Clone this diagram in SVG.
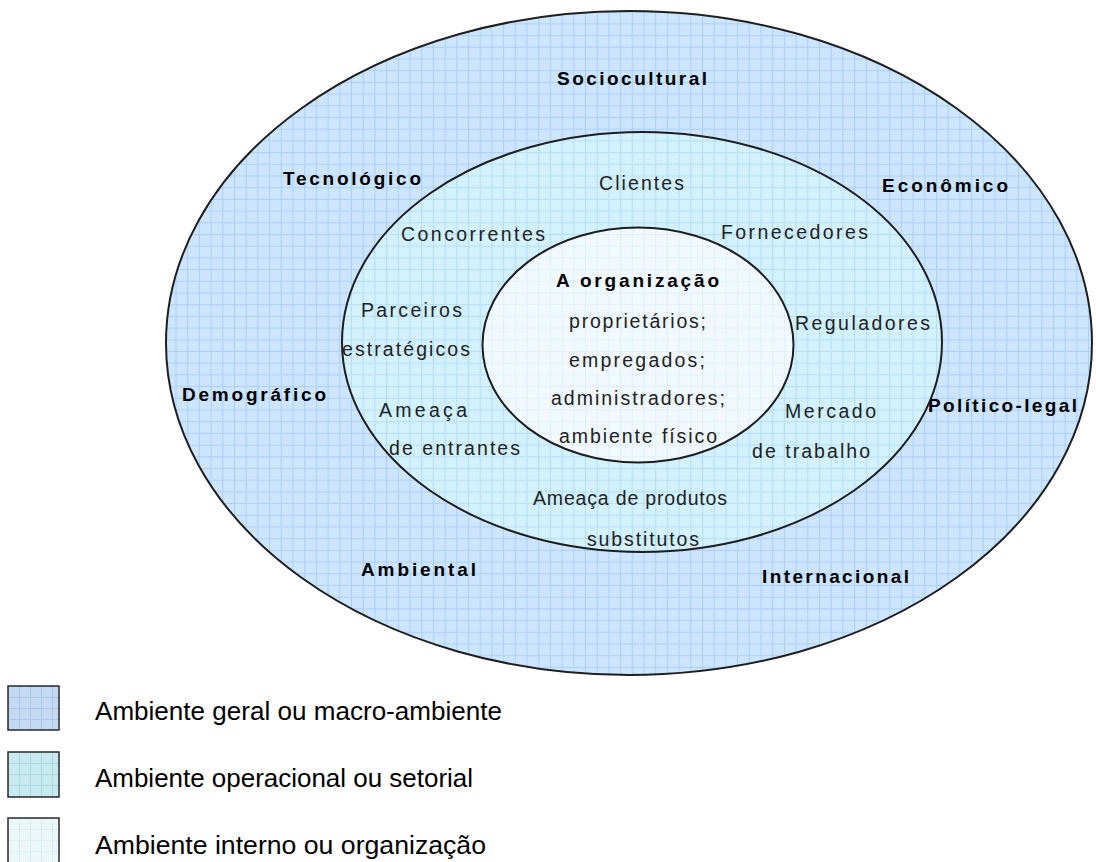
<svg xmlns="http://www.w3.org/2000/svg" width="1096" height="862" viewBox="0 0 1096 862">
  <style>
    .ring { stroke: #1e1e1e; stroke-width: 2; }
    .bold { font-family: "Liberation Sans", Arial, sans-serif; font-weight: bold; font-size: 19px; fill: #000; }
    .reg { font-family: "Liberation Sans", Arial, sans-serif; font-size: 19.5px; fill: #222; }
    .leg { font-family: "Liberation Sans", Arial, sans-serif; font-size: 25px; fill: #000; }
    .box { stroke: #2a2a2a; stroke-width: 1.5; }
  </style>
  <defs>
    <pattern id="gridMacro" patternUnits="userSpaceOnUse" width="11.7" height="11.7">
      <rect width="11.7" height="11.7" fill="#cde5ff"/>
      <path d="M0 0.5H11.7M0.5 0V11.7" stroke="#a9d0fb" stroke-width="1"/>
    </pattern>
    <pattern id="gridSetor" patternUnits="userSpaceOnUse" width="11.7" height="11.7">
      <rect width="11.7" height="11.7" fill="#d3f1ff"/>
      <path d="M0 0.5H11.7M0.5 0V11.7" stroke="#b3dff9" stroke-width="1"/>
    </pattern>
    <pattern id="gridOrg" patternUnits="userSpaceOnUse" width="11.7" height="11.7">
      <rect width="11.7" height="11.7" fill="#f1f9ff"/>
      <path d="M0 0.5H11.7M0.5 0V11.7" stroke="#dff0fb" stroke-width="1"/>
    </pattern>
    <pattern id="legMacro" patternUnits="userSpaceOnUse" width="11" height="11" x="8" y="686">
      <rect width="11" height="11" fill="#c6d9f3"/>
      <path d="M0 0.5H11M0.5 0V11" stroke="#a9c5ef" stroke-width="1"/>
    </pattern>
    <pattern id="legSetor" patternUnits="userSpaceOnUse" width="11" height="11" x="8" y="752">
      <rect width="11" height="11" fill="#c7e9ef"/>
      <path d="M0 0.5H11M0.5 0V11" stroke="#a9d8e3" stroke-width="1"/>
    </pattern>
    <pattern id="legOrg" patternUnits="userSpaceOnUse" width="11" height="11" x="8" y="818">
      <rect width="11" height="11" fill="#ecf7f9"/>
      <path d="M0 0.5H11M0.5 0V11" stroke="#d8eef2" stroke-width="1"/>
    </pattern>
  </defs>

  <rect width="1096" height="862" fill="#ffffff"/>

  <!-- general environment (outer ring) -->
  <g id="macro-ambiente">
    <ellipse class="ring" cx="629" cy="343" rx="463" ry="332" fill="url(#gridMacro)"/>
    <text class="bold" x="557" y="85" textLength="150" lengthAdjust="spacing">Sociocultural</text>
    <text class="bold" x="283" y="185" textLength="138" lengthAdjust="spacing">Tecnológico</text>
    <text class="bold" x="882" y="192" textLength="126" lengthAdjust="spacing">Econômico</text>
    <text class="bold" x="182" y="401" textLength="144" lengthAdjust="spacing">Demográfico</text>
    <text class="bold" x="928" y="412" textLength="149" lengthAdjust="spacing">Político-legal</text>
    <text class="bold" x="361" y="576" textLength="115" lengthAdjust="spacing">Ambiental</text>
    <text class="bold" x="762" y="583" textLength="147" lengthAdjust="spacing">Internacional</text>
  </g>

  <!-- operational environment (middle ring) -->
  <g id="ambiente-operacional">
    <ellipse class="ring" cx="642" cy="342" rx="300" ry="210" fill="url(#gridSetor)"/>
    <text class="reg" x="599" y="190" textLength="85" lengthAdjust="spacing">Clientes</text>
    <text class="reg" x="721" y="239" textLength="147" lengthAdjust="spacing">Fornecedores</text>
    <text class="reg" x="401" y="241" textLength="144" lengthAdjust="spacing">Concorrentes</text>
    <text class="reg" x="361" y="317" textLength="101" lengthAdjust="spacing">Parceiros</text>
    <text class="reg" x="342" y="356" textLength="128" lengthAdjust="spacing">estratégicos</text>
    <text class="reg" x="795" y="330" textLength="135" lengthAdjust="spacing">Reguladores</text>
    <text class="reg" x="379" y="417" textLength="88" lengthAdjust="spacing">Ameaça</text>
    <text class="reg" x="389" y="455" textLength="131" lengthAdjust="spacing">de entrantes</text>
    <text class="reg" x="785" y="418" textLength="91" lengthAdjust="spacing">Mercado</text>
    <text class="reg" x="752" y="458" textLength="118" lengthAdjust="spacing">de trabalho</text>
    <text class="reg" x="533" y="505" textLength="194" lengthAdjust="spacing">Ameaça de produtos</text>
    <text class="reg" x="587" y="546" textLength="112" lengthAdjust="spacing">substitutos</text>
  </g>

  <!-- internal environment (the organisation) -->
  <g id="organizacao">
    <ellipse class="ring" cx="638" cy="345" rx="155.5" ry="117.5" fill="url(#gridOrg)"/>
    <text class="bold" x="556" y="287" textLength="163" lengthAdjust="spacing">A organização</text>
    <text class="reg" x="569" y="328" textLength="137" lengthAdjust="spacing">proprietários;</text>
    <text class="reg" x="569" y="367" textLength="136" lengthAdjust="spacing">empregados;</text>
    <text class="reg" x="551" y="405" textLength="174" lengthAdjust="spacing">administradores;</text>
    <text class="reg" x="559" y="443" textLength="158" lengthAdjust="spacing">ambiente físico</text>
  </g>

  <!-- no connectors in this figure -->
  <g id="connectors"/>

  <!-- legend -->
  <g id="legenda-macro">
    <rect class="box" x="8" y="686" width="51" height="44" fill="url(#legMacro)"/>
    <text class="leg" x="95" y="720" textLength="407" lengthAdjust="spacingAndGlyphs">Ambiente geral ou macro-ambiente</text>
  </g>
  <g id="legenda-setorial">
    <rect class="box" x="8" y="752" width="51" height="45" fill="url(#legSetor)"/>
    <text class="leg" x="95" y="787" textLength="378" lengthAdjust="spacingAndGlyphs">Ambiente operacional ou setorial</text>
  </g>
  <g id="legenda-interno">
    <rect class="box" x="8" y="818" width="51" height="50" fill="url(#legOrg)"/>
    <text class="leg" x="95" y="854" textLength="391" lengthAdjust="spacingAndGlyphs">Ambiente interno ou organização</text>
  </g>
</svg>
